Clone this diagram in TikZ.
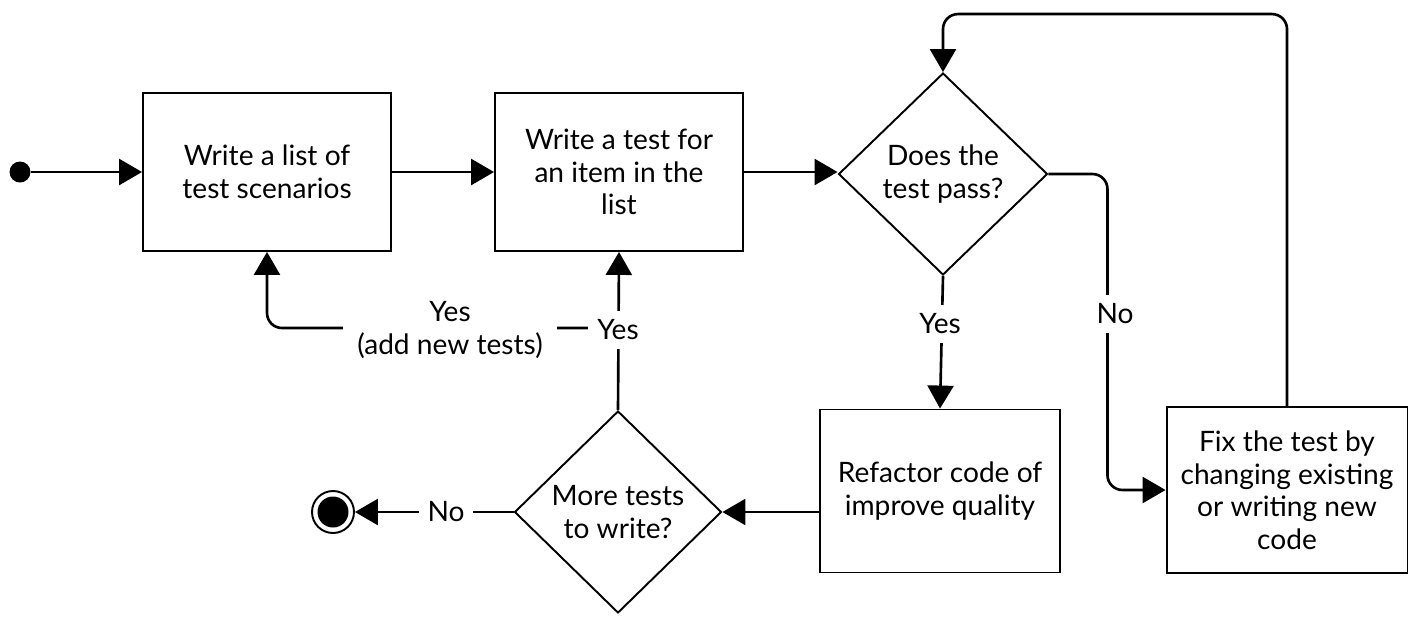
\documentclass[tikz,border=0pt]{standalone}
\usepackage{fontspec}
\setmainfont{Lato}
\usetikzlibrary{arrows.meta, shapes.geometric}

\tikzset{
	txt/.style={font=\fontsize{16}{18.5}\selectfont, align=center},
	box/.style={txt, draw, line width=1.1pt, inner sep=2pt},
	decision/.style={txt, draw, diamond, line width=1.1pt, inner sep=0pt,
		minimum width=4.18cm, minimum height=4.04cm},
	flow/.style={line width=1.5pt, -{Triangle[length=0.46cm, width=0.52cm]}},
	lbl/.style={txt, fill=white, inner sep=5pt},
}

\begin{document}
\begin{tikzpicture}[x=0.02cm, y=-0.02cm]
		\def\bw{4.96cm};
		\def\bh{3.16cm};
	
		\useasboundingbox (0,0) rectangle (1426,630);
	
		\node[circle, fill, inner sep=0pt, minimum size=0.42cm] (start) at (20,172) {};
		\node[box, minimum width=\bw, minimum height=\bh] (list) at (267,172) {Write a list of\\test scenarios};
		\node[box, minimum width=\bw, minimum height=\bh] (write) at (619,172) {Write a test for\\an item in the\\list};
		\node[decision] (pass) at (943,174) {Does the\\test pass?};
		\node[box, minimum width=4.8cm, minimum height=3.26cm] (refactor) at (940,491) {Refactor code of\\improve quality};
		\node[box, minimum width=4.82cm, minimum height=3.32cm] (fix) at (1287,490) {Fix the test by\\changing existing\\or writing new\\code};
		\node[decision, minimum width=4.14cm] (more) at (618,512) {More tests\\to write?};
		\node[circle, draw, line width=1.1pt, inner sep=0pt, minimum size=0.84cm] (stop) at (333,512) {};
		\fill (stop) circle (0.31cm);
		\coordinate (split) at (618,328);
	
		\draw[flow] (start) -- (list.west);
		\draw[flow] (list.east) -- (write.west);
		\draw[flow] (write.east) -- (write.east -| pass.west);
		\draw[flow] (pass.south) -- (refactor.north);
		\draw[flow, rounded corners=0.3cm] (pass.east) -- ++(59,0) |- (fix.west);
		\draw[flow, rounded corners=0.3cm] (fix.north) -- ++(0,-392) -| (pass.north);
		\draw[flow] (refactor.west |- more.east) -- (more.east);
		\draw[flow] (more.west) -- (stop.east);
		\draw[flow] (more.north) -- (write.south);
		\draw[flow, rounded corners=0.3cm] (split) -| (list.south);
	
		\node[lbl] (yes1) at (940,324) {Yes};
		\node[lbl] (no1) at (1115,314) {No};
		\node[lbl] (no2) at (446,512) {No};
		\node[lbl] (yes2) at (618,330) {Yes};
		\node[lbl, inner sep=8pt] (yes3) at (450,330) {Yes\\(add new tests)};
	\end{tikzpicture}
\end{document}
